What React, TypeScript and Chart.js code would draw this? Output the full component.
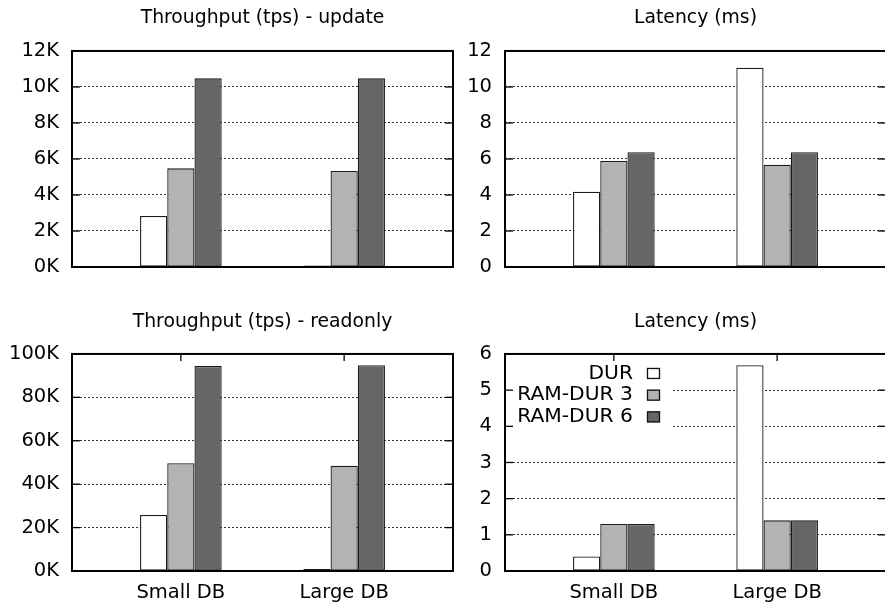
import React, { useEffect, useRef } from "react";
import { Chart, registerables } from "chart.js";

Chart.register(...registerables);

// ---- data ----
const categories = ["Small DB", "Large DB"];
const seriesNames = ["DUR", "RAM-DUR 3", "RAM-DUR 6"];
const seriesColors = ["#ffffff", "#b3b3b3", "#666666"];

const updTputDUR = [2830, 90];
const updTputRAM3 = [5480, 5330];
const updTputRAM6 = [10480, 10480];

const updLatDUR = [4.18, 11.07];
const updLatRAM3 = [5.89, 5.68];
const updLatRAM6 = [6.37, 6.37];

const roTputDUR = [25800, 900];
const roTputRAM3 = [49700, 48500];
const roTputRAM6 = [94500, 94800];

const roLatDUR = [0.4, 5.69];
const roLatRAM3 = [1.3, 1.4];
const roLatRAM6 = [1.3, 1.4];

const panelTitles = [
  "Throughput (tps) - update",
  "Latency (ms)",
  "Throughput (tps) - readonly",
  "Latency (ms)",
];
const yMaxes = [12000, 12, 100000, 6];
const ySteps = [2000, 2, 20000, 1];
const yUseK = [true, false, true, false];

const FONT = '"DejaVu Sans", sans-serif';
const FS = 19.5;
const TITLE_FS = 18.8;
const LEGEND_FS = 20.3;

type Panel = {
  left: number;
  top: number;
  width: number;
  height: number;
  axisW: number;
  padRight: number;
  titleTop: number;
  titleBottom: number;
  xLabels: boolean;
  legend: boolean;
};

const panels: Panel[] = [
  { left: 0, top: 0, width: 460, height: 300, axisW: 72, padRight: 7, titleTop: 7.2, titleBottom: 21.2, xLabels: false, legend: false },
  { left: 460, top: 0, width: 430, height: 300, axisW: 45, padRight: 4, titleTop: 7.2, titleBottom: 21.2, xLabels: false, legend: false },
  { left: 0, top: 300, width: 460, height: 311, axisW: 72, padRight: 7, titleTop: 10.4, titleBottom: 21.0, xLabels: true, legend: false },
  { left: 460, top: 300, width: 430, height: 311, axisW: 45, padRight: 4, titleTop: 10.4, titleBottom: 21.0, xLabels: true, legend: true },
];

const panelSeries = [
  [updTputDUR, updTputRAM3, updTputRAM6],
  [updLatDUR, updLatRAM3, updLatRAM6],
  [roTputDUR, roTputRAM3, roTputRAM6],
  [roLatDUR, roLatRAM3, roLatRAM6],
];

const framePlugin = {
  id: "frame",
  afterDatasetsDraw(chart: any, _args: any, opts: any) {
    const { ctx, chartArea: a, scales } = chart;
    ctx.save();
    if (opts.legend) {
      ctx.fillStyle = "#ffffff";
      ctx.fillRect(a.left + 1, a.top + 1, 166, 82);
      ctx.font = `${LEGEND_FS}px ${FONT}`;
      ctx.textAlign = "right";
      ctx.textBaseline = "middle";
      seriesNames.forEach((n, i) => {
        const cy = a.top + 19.5 + i * 21.7;
        ctx.fillStyle = "#000";
        ctx.fillText(n, a.left + 128, cy);
        ctx.fillStyle = seriesColors[i];
        ctx.fillRect(a.left + 142, cy - 5.5, 13, 11);
        ctx.strokeStyle = "#111";
        ctx.lineWidth = 1.3;
        ctx.strokeRect(a.left + 142.5, cy - 5, 12, 10);
      });
    }
    ctx.strokeStyle = "#000";
    ctx.lineWidth = 1.3;
    const line = (x1: number, y1: number, x2: number, y2: number) => {
      ctx.beginPath();
      ctx.moveTo(x1, y1);
      ctx.lineTo(x2, y2);
      ctx.stroke();
    };
    const ys = scales.y;
    ys.ticks.forEach((t: any) => {
      const py = ys.getPixelForValue(t.value);
      line(a.left, py, a.left + 8, py);
      line(a.right - 8, py, a.right, py);
    });
    if (opts.xTicks) {
      const xs = scales.x;
      categories.forEach((_c, i) => {
        const px = xs.getPixelForValue(i);
        line(px, a.top, px, a.top + 7);
      });
    }
    ctx.lineWidth = 2;
    ctx.strokeStyle = "#000";
    ctx.strokeRect(a.left, a.top, a.right - a.left, a.bottom - a.top);
    ctx.restore();
  },
};

function PanelChart({ idx }: { idx: number }) {
  const ref = useRef<HTMLCanvasElement>(null);
  const p = panels[idx];
  useEffect(() => {
    if (!ref.current) return;
    const series = panelSeries[idx];
    const chart = new Chart(ref.current, {
      type: "bar",
      data: {
        datasets: series.map((arr, si) => ({
          label: seriesNames[si],
          data: categories.map((_c, ci) => ({ x: ci, y: arr[ci] })),
          backgroundColor: seriesColors[si],
          borderColor: "#1a1a1a",
          borderWidth: 1.3,
          borderSkipped: false,
          categoryPercentage: 0.5,
          barPercentage: 1,
        })),
      },
      options: {
        animation: false,
        responsive: false,
        devicePixelRatio: 1,
        layout: {
          padding: { left: 0, right: p.padRight, top: 0, bottom: 0 },
        },
        plugins: {
          legend: { display: false },
          tooltip: { enabled: false },
          title: {
            display: true,
            text: panelTitles[idx],
            fullSize: false,
            color: "#000",
            font: { family: FONT, size: TITLE_FS, weight: "normal", lineHeight: 1.2 },
            padding: { top: p.titleTop, bottom: p.titleBottom },
          },
          frame: { legend: p.legend, xTicks: p.xLabels },
        } as any,
        scales: {
          x: {
            type: "linear",
            display: p.xLabels,
            min: -2 / 3,
            max: 5 / 3,
            offset: false,
            grid: { display: false, drawTicks: false },
            border: { display: false },
            afterBuildTicks: (s: any) => {
              s.ticks = categories.map((_c, i) => ({ value: i }));
            },
            afterFit: (s: any) => {
              s.height = p.xLabels ? 40 : 33;
            },
            ticks: {
              color: "#000",
              padding: 10,
              maxRotation: 0,
              autoSkip: false,
              font: { family: FONT, size: FS },
              callback: (v: any) => categories[Math.round(Number(v))],
            },
          },
          y: {
            type: "linear",
            min: 0,
            max: yMaxes[idx],
            afterFit: (s: any) => {
              s.width = p.axisW;
            },
            grid: {
              drawTicks: false,
              color: "#333",
              lineWidth: 1,
            },
            border: { display: false, dash: [2, 2] },
            ticks: {
              stepSize: ySteps[idx],
              color: "#000",
              padding: 13,
              font: { family: FONT, size: FS },
              callback: (v: any) => (yUseK[idx] ? `${Number(v) / 1000}K` : `${v}`),
            },
          },
        },
      } as any,
      plugins: [framePlugin],
    });
    return () => chart.destroy();
  }, [idx]);
  return (
    <div style={{ position: "absolute", left: p.left, top: p.top, width: p.width, height: p.height }}>
      <canvas ref={ref} width={p.width} height={p.height} style={{ width: p.width, height: p.height, display: "block" }} />
    </div>
  );
}

export default function App() {
  return (
    <div
      style={{
        position: "absolute",
        left: 0,
        top: 0,
        width: 885,
        height: 611,
        overflow: "hidden",
        background: "#fff",
      }}
    >
      {panels.map((_p, i) => (
        <PanelChart key={i} idx={i} />
      ))}
    </div>
  );
}
